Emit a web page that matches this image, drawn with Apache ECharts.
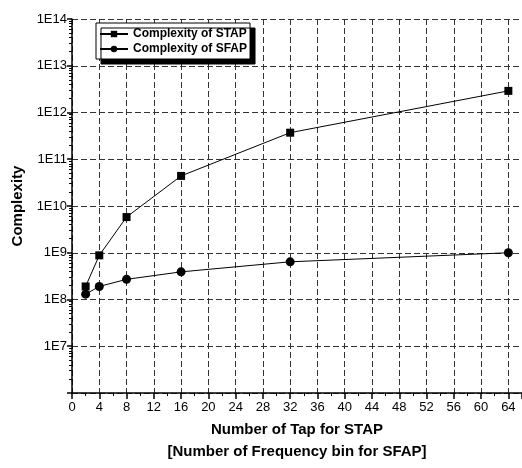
<!DOCTYPE html>
<html>
<head>
<meta charset="utf-8">
<script src="https://cdn.jsdelivr.net/npm/echarts@6/dist/echarts.min.js"></script>
<style>html,body{margin:0;padding:0;background:#fff}#c{width:522px;height:468px}</style>
</head>
<body>
<div id="c"></div>
<script>
var taps = [2, 4, 8, 16, 32, 64];
var stapValues = [1.9e8, 8.8e8, 5.8e9, 4.4e10, 3.7e11, 2.9e12];
var sfapValues = [1.3e8, 1.9e8, 2.7e8, 3.9e8, 6.4e8, 1.0e9];
var seriesNames = ['Complexity of STAP', 'Complexity of SFAP'];

function pairs(xs, ys) { return xs.map(function (x, i) { return [x, ys[i]]; }); }

var font = 'Liberation Sans, Arial, sans-serif';
function gridLine() { return { show: true, lineStyle: { color: '#333', width: 1, type: [6, 3], dashOffset: 0 } }; }

var chart = echarts.init(document.getElementById('c'));
chart.setOption({
  animation: false,
  backgroundColor: '#fff',
  grid: { left: 72, right: 0, top: 19, bottom: 73, containLabel: false },
  legend: {
    orient: 'vertical',
    left: 96, top: 23,
    padding: [5, 3, 4, 3],
    itemGap: 3,
    itemWidth: 28, itemHeight: 8,
    backgroundColor: '#fff',
    borderColor: '#000', borderWidth: 1,
    shadowColor: '#000', shadowBlur: 0.01, shadowOffsetX: 5, shadowOffsetY: 5,
    textStyle: { fontFamily: font, fontSize: 12, fontWeight: 'bold', color: '#000' },
    data: seriesNames
  },
  xAxis: {
    type: 'value', min: 0, max: 66, interval: 4,
    name: 'Number of Tap for STAP\n[Number of Frequency bin for SFAP]',
    nameLocation: 'middle', nameGap: 26,
    nameTextStyle: { fontFamily: font, fontSize: 15, fontWeight: 'bold', color: '#000', lineHeight: 22 },
    axisLine: { show: true, onZero: false, lineStyle: { color: '#000', width: 1.5 } },
    axisTick: { show: true, length: 6, lineStyle: { color: '#000', width: 1.5 } },
    minorTick: { show: true, splitNumber: 2, length: 3, lineStyle: { color: '#000' } },
    axisLabel: { fontFamily: font, fontSize: 13, color: '#000', margin: 8, showMaxLabel: false,
      formatter: function (v) { return v % 4 === 0 ? String(v) : ''; } },
    splitLine: gridLine()
  },
  yAxis: {
    type: 'log', logBase: 10, min: 1e6, max: 1e14,
    name: 'Complexity',
    nameLocation: 'middle', nameGap: 47, nameRotate: 90,
    nameTextStyle: { fontFamily: font, fontSize: 15, fontWeight: 'bold', color: '#000' },
    axisLine: { show: true, lineStyle: { color: '#000', width: 1.5 } },
    axisTick: { show: true, length: 5, lineStyle: { color: '#000', width: 1.5 } },
    minorTick: { show: true, splitNumber: 9, length: 3, lineStyle: { color: '#000' } },
    axisLabel: { fontFamily: font, fontSize: 13, color: '#000', margin: 5,
      formatter: function (v) { var e = Math.round(Math.log10(v)); return e <= 6 ? '' : '1E' + e; } },
    splitLine: gridLine()
  },
  series: [
    {
      name: seriesNames[0], type: 'line', data: pairs(taps, stapValues),
      symbol: 'rect', symbolSize: 8,
      itemStyle: { color: '#000' },
      lineStyle: { color: '#000', width: 1 }
    },
    {
      name: seriesNames[1], type: 'line', data: pairs(taps, sfapValues),
      symbol: 'circle', symbolSize: 9,
      itemStyle: { color: '#000' },
      lineStyle: { color: '#000', width: 1 }
    }
  ]
});
</script>
</body>
</html>
